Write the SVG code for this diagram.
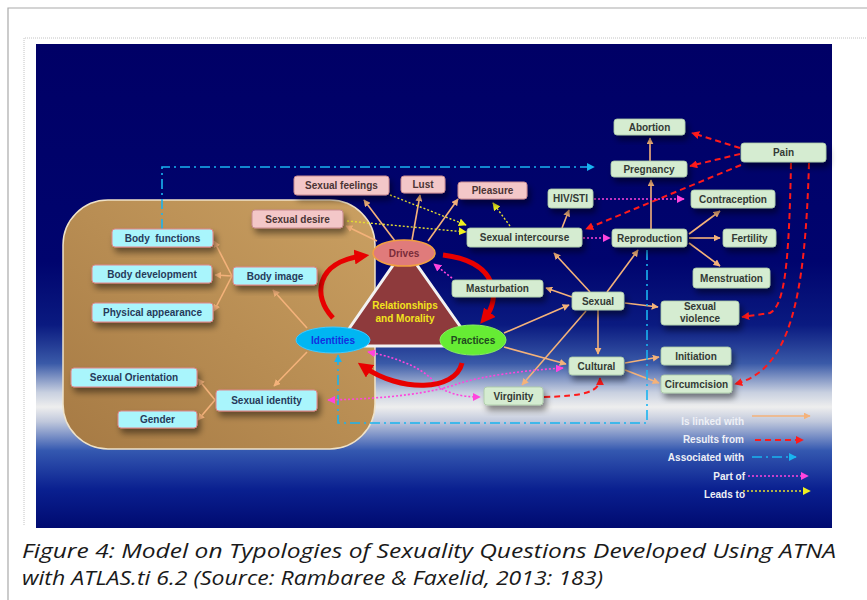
<svg xmlns="http://www.w3.org/2000/svg" width="867" height="600" viewBox="0 0 867 600">
<defs>
<style>
.t{font-family:"Liberation Sans",Arial,sans-serif;font-weight:bold;font-size:10px;text-anchor:middle}
.cy rect{fill:#a9f5fc;stroke:#e0868c;stroke-width:1}
.cy text{fill:#263a5a}
.pk rect{fill:#f3c7c8;stroke:#c98b90;stroke-width:1}
.pk text{fill:#4a3434}
.gr rect{fill:#d5ecd1;stroke:#a9c9a5;stroke-width:0.8}
.gr text{fill:#333a35}
.sh{filter:url(#ds)}
.lk{fill:none;stroke:#f4b27a;stroke-width:1.6;marker-end:url(#aO)}
.rs{fill:none;stroke:#ff1a1a;stroke-width:2;stroke-dasharray:6 4;marker-end:url(#aR)}
.as{fill:none;stroke:#19b4f0;stroke-width:1.6;stroke-dasharray:10 4 2 4;marker-end:url(#aB)}
.po{fill:none;stroke:#ff44dd;stroke-width:1.6;stroke-dasharray:2 2;marker-end:url(#aM)}
.ld{fill:none;stroke:#e6e030;stroke-width:1.4;stroke-dasharray:2 2;marker-end:url(#aY)}
.big{fill:none;stroke:#e80000;stroke-width:5;marker-end:url(#aBig)}
.lg{font-family:"Liberation Sans",Arial,sans-serif;font-weight:bold;font-size:10px;fill:#eef0f6;text-anchor:end}
.cap{font-family:"Open Sans","Liberation Sans",Arial,sans-serif;font-style:italic;font-size:20px;fill:#1a1a1a}
</style>
<linearGradient id="bg" x1="0" y1="0" x2="0" y2="1">
<stop offset="0" stop-color="#000066"/>
<stop offset="0.45" stop-color="#00046e"/>
<stop offset="0.58" stop-color="#0a1a80"/>
<stop offset="0.66" stop-color="#3a5aa8"/>
<stop offset="0.72" stop-color="#c8d0e0"/>
<stop offset="0.75" stop-color="#eeeeee"/>
<stop offset="0.78" stop-color="#c0c8dc"/>
<stop offset="0.84" stop-color="#3458b0"/>
<stop offset="0.92" stop-color="#0a2090"/>
<stop offset="1" stop-color="#000a70"/>
</linearGradient>
<linearGradient id="tan" x1="1" y1="0" x2="0" y2="1">
<stop offset="0" stop-color="#caa062"/>
<stop offset="1" stop-color="#a67a44"/>
</linearGradient>
<filter id="ds" x="-30%" y="-40%" width="160%" height="200%">
<feDropShadow dx="3" dy="5" stdDeviation="3" flood-color="#000" flood-opacity="0.45"/>
</filter>
<marker id="aO" viewBox="0 0 10 10" refX="9" refY="5" markerWidth="7" markerHeight="7" markerUnits="userSpaceOnUse" orient="auto"><path d="M0,0 L10,5 L0,10 z" fill="#f4b27a"/></marker>
<marker id="aR" viewBox="0 0 10 10" refX="9" refY="5" markerWidth="8" markerHeight="8" markerUnits="userSpaceOnUse" orient="auto"><path d="M0,0 L10,5 L0,10 z" fill="#ff1a1a"/></marker>
<marker id="aB" viewBox="0 0 10 10" refX="9" refY="5" markerWidth="8" markerHeight="8" markerUnits="userSpaceOnUse" orient="auto"><path d="M0,0 L10,5 L0,10 z" fill="#19b4f0"/></marker>
<marker id="aM" viewBox="0 0 10 10" refX="9" refY="5" markerWidth="8" markerHeight="8" markerUnits="userSpaceOnUse" orient="auto"><path d="M0,0 L10,5 L0,10 z" fill="#ff44dd"/></marker>
<marker id="aMs" viewBox="0 0 10 10" refX="9" refY="5" markerWidth="8" markerHeight="8" markerUnits="userSpaceOnUse" orient="auto-start-reverse"><path d="M0,0 L10,5 L0,10 z" fill="#ff44dd"/></marker>
<marker id="aY" viewBox="0 0 10 10" refX="9" refY="5" markerWidth="8" markerHeight="8" markerUnits="userSpaceOnUse" orient="auto"><path d="M0,0 L10,5 L0,10 z" fill="#f0f020"/></marker>
<marker id="aBig" viewBox="0 0 10 10" refX="5" refY="5" markerWidth="15" markerHeight="15" markerUnits="userSpaceOnUse" orient="auto"><path d="M0,0 L10,5 L0,10 z" fill="#e80000"/></marker>
</defs>

<rect x="0" y="0" width="867" height="600" fill="#ffffff"/>
<g id="frame">
<path d="M8,600 V8 H867" fill="none" stroke="#aaaaaa" stroke-width="1.2"/>
<path d="M24,525 V38 H867" fill="none" stroke="#c4c4c4" stroke-width="1" stroke-dasharray="1 1"/>
</g>
<rect x="36" y="44" width="796" height="484" fill="url(#bg)"/>

<g id="body-region">
<rect x="63" y="200" width="312" height="249" rx="45" fill="url(#tan)" stroke="#efe2c8" stroke-width="1.5"/>
</g>

<g id="triangle">
<polygon points="405,248 337,346 474,346" fill="#8e3a3c" stroke="#f2f2f2" stroke-width="3" stroke-linejoin="round"/>
<text class="t" x="405" y="309" style="fill:#f2e41c">Relationships</text>
<text class="t" x="405" y="322" style="fill:#f2e41c">and Morality</text>
</g>

<g id="connectors">
<path class="lk" d="M232,276 L214,241"/>
<path class="lk" d="M232,276 L215,275"/>
<path class="lk" d="M232,276 L214,311"/>
<path class="lk" d="M307,328 L273,290"/>
<path class="lk" d="M307,352 L274,386"/>
<path class="lk" d="M215,400 L198,379"/>
<path class="lk" d="M215,400 L198,420"/>
<path class="lk" d="M377,241 L346,226"/>
<path class="lk" d="M395,241 L364,200"/>
<path class="lk" d="M412,240 L420,195"/>
<path class="lk" d="M428,241 L458,199"/>
<path class="lk" d="M572,297 L546,288"/>
<path class="lk" d="M590,292 L554,253"/>
<path class="lk" d="M607,292 L638,250"/>
<path class="lk" d="M625,303 L658,307"/>
<path class="lk" d="M598,310 L598,354"/>
<path class="lk" d="M504,333 L569,305"/>
<path class="lk" d="M586,311 L522,385"/>
<path class="lk" d="M504,347 L566,364"/>
<path class="lk" d="M562,228 L569,210"/>
<path class="lk" d="M651,229 L651,180"/>
<path class="lk" d="M650,161 L650,138"/>
<path class="lk" d="M689,234 L720,211"/>
<path class="lk" d="M689,238 L720,238"/>
<path class="lk" d="M689,243 L720,266"/>
<path class="lk" d="M625,363 L659,357"/>
<path class="lk" d="M625,370 L659,383"/>
<path class="rs" d="M740,148 L692,133"/>
<path class="rs" d="M740,154 L690,166"/>
<path class="rs" d="M741,165 L586,229"/>
<path class="rs" d="M791,163 C789,262 785,305 770,313 L742,317"/>
<path class="rs" d="M809,163 C805,300 790,370 735,384"/>
<path class="rs" d="M544,397 C585,396 600,392 600,378"/>
<path class="as" d="M162,229 V167 H594"/>
<path class="as" d="M647,250 V423 H338 V355"/>
<path class="po" d="M594,199 L684,199"/>
<path class="po" d="M583,238 L610,238"/>
<path class="po" d="M452,278 L434,264"/>
<path class="po" d="M368,352 Q420,362 438,386 Q452,397 480,397" style="marker-start:url(#aMs)"/>
<path class="po" d="M328,400 Q420,398 460,383 Q500,372 563,368" style="marker-start:url(#aMs)"/>
<path class="ld" d="M347,221 L466,232"/>
<path class="ld" d="M390,195 L466,225"/>
<path class="ld" d="M510,226 L493,203"/>
<path class="big" d="M333,318 C312,296 316,262 362,256"/>
<path class="big" d="M443,255 C500,262 500,300 485,318"/>
<path class="big" d="M462,363 C455,392 400,392 364,367"/>
</g>

<g id="drives" class="t">
<ellipse cx="404" cy="253" rx="31" ry="13" fill="#e07b7b" stroke="#f2a040" stroke-width="1.5"/>
<text x="404" y="256.5" style="fill:#7a2c3a">Drives</text>
</g>
<g id="identities" class="t">
<ellipse cx="333" cy="340" rx="37" ry="13" fill="#00b6f2" stroke="#40c8ff" stroke-width="1"/>
<text x="333" y="343.5" style="fill:#1430e0">Identities</text>
</g>
<g id="practices" class="t">
<ellipse cx="473" cy="340" rx="33" ry="15" fill="#66ec34" stroke="#88f060" stroke-width="1"/>
<text x="473" y="343.5" style="fill:#1f4a1f">Practices</text>
</g>

<g id="body-functions" class="t cy"><rect class="sh" x="112" y="229" width="101" height="18" rx="3"/><text x="162.5" y="241.5" xml:space="preserve">Body  functions</text></g>
<g id="body-development" class="t cy"><rect class="sh" x="92" y="265" width="120" height="18" rx="3"/><text x="152" y="277.5">Body development</text></g>
<g id="physical-appearance" class="t cy"><rect class="sh" x="92" y="303" width="121" height="19" rx="3"/><text x="152.5" y="316">Physical appearance</text></g>
<g id="body-image" class="t cy"><rect class="sh" x="233" y="267" width="84" height="18" rx="3"/><text x="275" y="279.5">Body image</text></g>
<g id="sexual-orientation" class="t cy"><rect class="sh" x="71" y="368" width="126" height="19" rx="3"/><text x="134" y="381">Sexual Orientation</text></g>
<g id="gender" class="t cy"><rect class="sh" x="118" y="411" width="79" height="17" rx="3"/><text x="157.5" y="423">Gender</text></g>
<g id="sexual-identity" class="t cy"><rect class="sh" x="216" y="390" width="101" height="21" rx="3"/><text x="266.5" y="404">Sexual identity</text></g>

<g id="sexual-desire" class="t pk"><rect class="sh" x="252" y="210" width="91" height="18" rx="3"/><text x="297.5" y="222.5">Sexual desire</text></g>
<g id="sexual-feelings" class="t pk"><rect class="sh" x="294" y="176" width="95" height="19" rx="3"/><text x="341.5" y="189">Sexual feelings</text></g>
<g id="lust" class="t pk"><rect class="sh" x="401" y="176" width="44" height="17" rx="3"/><text x="423" y="188">Lust</text></g>
<g id="pleasure" class="t pk"><rect class="sh" x="458" y="182" width="69" height="17" rx="3"/><text x="492.5" y="194">Pleasure</text></g>

<g id="sexual-intercourse" class="t gr"><rect class="sh" x="467" y="228" width="115" height="19" rx="3"/><text x="524.5" y="241">Sexual intercourse</text></g>
<g id="masturbation" class="t gr"><rect class="sh" x="452" y="280" width="91" height="17" rx="3"/><text x="497.5" y="292">Masturbation</text></g>
<g id="hiv-sti" class="t gr"><rect class="sh" x="548" y="189" width="45" height="19" rx="3"/><text x="570.5" y="202">HIV/STI</text></g>
<g id="abortion" class="t gr"><rect class="sh" x="614" y="119" width="71" height="16" rx="3"/><text x="649.5" y="130.5">Abortion</text></g>
<g id="pregnancy" class="t gr"><rect class="sh" x="611" y="161" width="76" height="16" rx="3"/><text x="649" y="172.5">Pregnancy</text></g>
<g id="pain" class="t gr"><rect class="sh" x="741" y="143" width="85" height="19" rx="3"/><text x="783.5" y="156">Pain</text></g>
<g id="contraception" class="t gr"><rect class="sh" x="691" y="190" width="84" height="18" rx="3"/><text x="733" y="202.5">Contraception</text></g>
<g id="reproduction" class="t gr"><rect class="sh" x="612" y="229" width="75" height="18" rx="3"/><text x="649.5" y="241.5">Reproduction</text></g>
<g id="fertility" class="t gr"><rect class="sh" x="723" y="229" width="53" height="18" rx="3"/><text x="749.5" y="241.5">Fertility</text></g>
<g id="menstruation" class="t gr"><rect class="sh" x="693" y="268" width="77" height="20" rx="3"/><text x="731.5" y="281.5">Menstruation</text></g>
<g id="sexual" class="t gr"><rect class="sh" x="572" y="292" width="52" height="18" rx="3"/><text x="598" y="304.5">Sexual</text></g>
<g id="sexual-violence" class="t gr"><rect class="sh" x="661" y="301" width="78" height="24" rx="3"/><text x="700" y="310">Sexual</text><text x="700" y="322">violence</text></g>
<g id="initiation" class="t gr"><rect class="sh" x="661" y="347" width="70" height="18" rx="3"/><text x="696" y="359.5">Initiation</text></g>
<g id="circumcision" class="t gr"><rect class="sh" x="661" y="375" width="71" height="18" rx="3"/><text x="696.5" y="387.5">Circumcision</text></g>
<g id="cultural" class="t gr"><rect class="sh" x="569" y="357" width="55" height="18" rx="3"/><text x="596.5" y="369.5">Cultural</text></g>
<g id="virginity" class="t gr"><rect class="sh" x="484" y="387" width="59" height="18" rx="3"/><text x="513.5" y="399.5">Virginity</text></g>

<g id="legend">
<text class="lg" x="744" y="424.5">Is linked with</text>
<path class="lk" d="M752,416 L810,416"/>
<text class="lg" x="744" y="442.5">Results from</text>
<path class="rs" d="M755,440 L803,440"/>
<text class="lg" x="744" y="460.5">Associated with</text>
<path class="as" d="M752,457 L796,457"/>
<text class="lg" x="745" y="479.5">Part of</text>
<path class="po" d="M748,476 L808,476"/>
<text class="lg" x="745" y="497.5">Leads to</text>
<path class="ld" d="M743,491 L810,491"/>
</g>

<g id="caption">
<text class="cap" x="22" y="558" textLength="814" lengthAdjust="spacingAndGlyphs">Figure 4: Model on Typologies of Sexuality Questions Developed Using ATNA</text>
<text class="cap" x="22" y="585" textLength="581" lengthAdjust="spacingAndGlyphs">with ATLAS.ti 6.2 (Source: Rambaree &amp; Faxelid, 2013: 183)</text>
</g>
</svg>
